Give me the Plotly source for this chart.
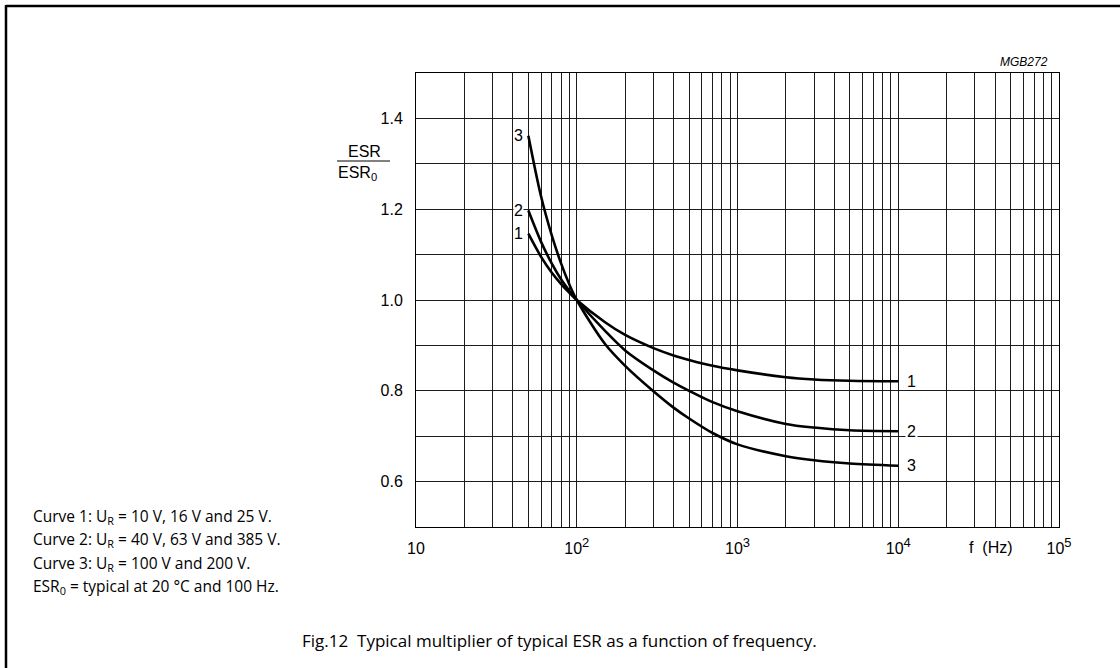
import plotly.graph_objects as go

# ---- data ----
freq_hz = [50, 60, 70, 80, 90, 100, 150, 200, 300, 400, 500, 700, 1000, 2000, 3000, 5000, 10000]
curve1 = [1.146, 1.095, 1.060, 1.035, 1.016, 1.000, 0.951, 0.923, 0.894, 0.878, 0.868, 0.855, 0.845,
          0.830, 0.825, 0.822, 0.821]
curve2 = [1.197, 1.128, 1.080, 1.045, 1.020, 1.000, 0.932, 0.889, 0.845, 0.818, 0.800, 0.775, 0.755,
          0.727, 0.719, 0.713, 0.711]
curve3 = [1.362, 1.228, 1.142, 1.080, 1.034, 1.000, 0.903, 0.855, 0.799, 0.763, 0.739, 0.707, 0.682,
          0.656, 0.647, 0.640, 0.635]
curve_names = ["1", "2", "3"]

x_tickvals = [10, 100, 1000, 10000, 100000]
x_ticktext = ["10",
              "10<sup><span style='font-size:13px'>2</span></sup>",
              "10<sup><span style='font-size:13px'>3</span></sup>",
              "10<sup><span style='font-size:13px'>4</span></sup>",
              "10<sup><span style='font-size:13px'>5</span></sup>"]
y_tickvals = [0.6, 0.8, 1.0, 1.2, 1.4]
y_ticktext = ["0.6", "0.8", "1.0", "1.2", "1.4"]
x_minor = [m * 10 ** e for e in range(1, 5) for m in range(2, 10)]

notes = [
    "Curve 1: U<sub>R</sub> = 10 V, 16 V and 25 V.",
    "Curve 2: U<sub>R</sub> = 40 V, 63 V and 385 V.",
    "Curve 3: U<sub>R</sub> = 100 V and 200 V.",
    "ESR<sub>0</sub> = typical at 20 °C and 100 Hz.",
]
caption = "Fig.12  Typical multiplier of typical ESR as a function of frequency."

# ---- layout geometry (pixels) ----
W, H = 1120, 668
X0, X1, Y0, Y1 = 416, 1059, 73, 527


def px(x):
    return (x - X0) / (X1 - X0)


def py(y):
    return (Y1 - y) / (Y1 - Y0)


AX_FONT = "Liberation Sans, Arial, sans-serif"
TXT_FONT = "Open Sans, Lato, sans-serif"

fig = go.Figure()
for ys in (curve1, curve2, curve3):
    fig.add_trace(go.Scatter(
        x=freq_hz, y=ys, mode="lines",
        line=dict(color="black", width=2.6, shape="spline", smoothing=0.9),
        showlegend=False, hoverinfo="skip",
    ))

grid_col = "#1c1c1c"
fig.update_xaxes(
    type="log", range=[1, 5],
    tickvals=x_tickvals, ticktext=x_ticktext,
    tickfont=dict(family=AX_FONT, size=16, color="black"),
    showgrid=True, gridcolor=grid_col, gridwidth=1,
    minor=dict(tickvals=x_minor, showgrid=True, gridcolor=grid_col, gridwidth=1, ticks=""),
    showline=True, linecolor="black", linewidth=1, mirror=True,
    ticks="", zeroline=False, ticklabelstandoff=7,
)
fig.update_yaxes(
    range=[0.5, 1.5],
    tickvals=y_tickvals, ticktext=y_ticktext,
    tickfont=dict(family=AX_FONT, size=16, color="black"),
    showgrid=True, gridcolor=grid_col, gridwidth=1,
    minor=dict(dtick=0.1, tick0=0.5, showgrid=True, gridcolor=grid_col, gridwidth=1, ticks=""),
    showline=True, linecolor="black", linewidth=1, mirror=True,
    ticks="", zeroline=False, ticklabelstandoff=9,
)

ann = []
# curve labels (left, at start)
for name, ys in zip(curve_names, (curve1, curve2, curve3)):
    ann.append(dict(xref="x", yref="y", x=1.6345, y=ys[0], text=name, showarrow=False,
                    font=dict(family=AX_FONT, size=16, color="black"),
                    xanchor="center", yanchor="middle",
                    bgcolor="white" if name == "2" else None, borderpad=0))
# curve labels (right, at end)
for name, ys in zip(curve_names, (curve1, curve2, curve3)):
    ann.append(dict(xref="x", yref="y", x=4.0837, y=ys[-1], text=name, showarrow=False,
                    font=dict(family=AX_FONT, size=16, color="black"),
                    xanchor="center", yanchor="middle",
                    bgcolor="white" if name == "2" else None, borderpad=1))

# f (Hz)
ann.append(dict(xref="paper", yref="paper", x=px(991), y=py(547), text="f  (Hz)", showarrow=False,
                font=dict(family=AX_FONT, size=16, color="black"), xanchor="center", yanchor="middle"))
# MGB272
ann.append(dict(xref="paper", yref="paper", x=px(1050), y=py(62), text="<i>MGB272</i>", showarrow=False,
                font=dict(family=AX_FONT, size=12, color="black"), xanchor="right", yanchor="middle"))
# y axis fraction title
ann.append(dict(xref="paper", yref="paper", x=px(364), y=py(151), text="ESR", showarrow=False,
                font=dict(family=AX_FONT, size=16, color="black"), xanchor="center", yanchor="middle"))
ann.append(dict(xref="paper", yref="paper", x=px(336), y=py(173), text="ESR<sub>0</sub>", showarrow=False,
                font=dict(family=AX_FONT, size=16, color="black"), xanchor="left", yanchor="middle"))
# notes
for i, t in enumerate(notes):
    ann.append(dict(xref="paper", yref="paper", x=px(31), y=py(516 + 23.5 * i), text=t, showarrow=False,
                    font=dict(family=TXT_FONT, size=15.5, color="black"), xanchor="left", yanchor="middle"))
# caption
ann.append(dict(xref="paper", yref="paper", x=px(559), y=py(640), text=caption, showarrow=False,
                font=dict(family=TXT_FONT, size=17, color="black"), xanchor="center", yanchor="middle"))

shapes = [
    # fraction bar
    dict(type="line", xref="paper", yref="paper", x0=px(337), x1=px(390), y0=py(161), y1=py(161),
         line=dict(color="black", width=1)),
    # page frame (top and left)
    dict(type="line", xref="paper", yref="paper", x0=px(6), x1=px(1130), y0=py(6), y1=py(6),
         line=dict(color="black", width=2.5)),
    dict(type="line", xref="paper", yref="paper", x0=px(6), x1=px(6), y0=py(5), y1=py(680),
         line=dict(color="black", width=2.5)),
]

fig.update_layout(
    width=W, height=H,
    margin=dict(l=X0, r=W - X1, t=Y0, b=H - Y1, autoexpand=False),
    paper_bgcolor="white", plot_bgcolor="white",
    annotations=ann, shapes=shapes, showlegend=False,
)

fig.write_html("out.html")
